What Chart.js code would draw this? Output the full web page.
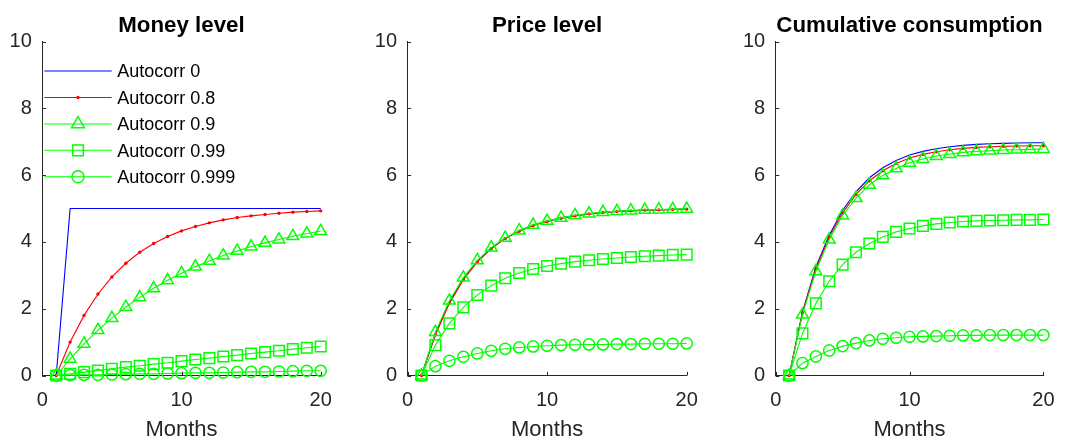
<!DOCTYPE html>
<html>
<head>
<meta charset="utf-8">
<script src="https://cdn.jsdelivr.net/npm/chart.js@4/dist/chart.umd.min.js"></script>
<style>
  html, body { margin: 0; padding: 0; background: #fff; overflow: hidden; }
  .panel { position: absolute; top: 0; height: 443px; }
  canvas { display: block; }
</style>
</head>
<body>
<div class="panel" style="left:0px;width:356px"><canvas id="money" width="356" height="443"></canvas></div>
<div class="panel" style="left:360px;width:356px"><canvas id="price" width="356" height="443"></canvas></div>
<div class="panel" style="left:720px;width:347px"><canvas id="cons" width="347" height="443"></canvas></div>
<script>
// Horizon in months
const months = [1, 2, 3, 4, 5, 6, 7, 8, 9, 10, 11, 12, 13, 14, 15, 16, 17, 18, 19, 20];

const seriesNames = ['Autocorr 0', 'Autocorr 0.8', 'Autocorr 0.9', 'Autocorr 0.99', 'Autocorr 0.999'];
const xTicks = [0, 10, 20];
const yTicks = [0, 2, 4, 6, 8, 10];

// Money level responses
const money0    = [0, 5, 5, 5, 5, 5, 5, 5, 5, 5, 5, 5, 5, 5, 5, 5, 5, 5, 5, 5];
const money08   = [0, 1.00, 1.80, 2.44, 2.95, 3.36, 3.69, 3.95, 4.16, 4.33, 4.46, 4.57, 4.66, 4.73, 4.78, 4.82, 4.86, 4.89, 4.91, 4.93];
const money09   = [0, 0.50, 0.95, 1.36, 1.72, 2.05, 2.34, 2.61, 2.85, 3.06, 3.26, 3.43, 3.59, 3.73, 3.86, 3.97, 4.07, 4.17, 4.25, 4.32];
const money099  = [0, 0.05, 0.10, 0.15, 0.20, 0.25, 0.29, 0.34, 0.38, 0.43, 0.48, 0.52, 0.57, 0.61, 0.66, 0.70, 0.74, 0.79, 0.83, 0.87];
const money0999 = [0, 0.01, 0.02, 0.02, 0.03, 0.04, 0.05, 0.05, 0.06, 0.07, 0.08, 0.08, 0.09, 0.10, 0.11, 0.11, 0.12, 0.13, 0.14, 0.14];

// Price level responses
const price0    = [0, 1.25, 2.19, 2.89, 3.42, 3.81, 4.11, 4.33, 4.50, 4.62, 4.72, 4.79, 4.84, 4.88, 4.91, 4.93, 4.95, 4.96, 4.97, 4.98];
const price08   = [0, 1.22, 2.16, 2.87, 3.40, 3.80, 4.10, 4.32, 4.49, 4.61, 4.71, 4.78, 4.84, 4.88, 4.91, 4.93, 4.95, 4.96, 4.97, 4.98];
const price09   = [0, 1.30, 2.24, 2.93, 3.45, 3.83, 4.12, 4.34, 4.51, 4.63, 4.72, 4.80, 4.85, 4.89, 4.92, 4.94, 4.96, 4.97, 4.98, 4.99];
const price099  = [0, 0.91, 1.56, 2.04, 2.41, 2.69, 2.91, 3.07, 3.19, 3.28, 3.35, 3.41, 3.45, 3.49, 3.52, 3.55, 3.57, 3.59, 3.61, 3.62];
const price0999 = [0, 0.28, 0.44, 0.56, 0.66, 0.74, 0.80, 0.84, 0.87, 0.89, 0.91, 0.92, 0.93, 0.93, 0.94, 0.94, 0.95, 0.95, 0.95, 0.96];

// Cumulative consumption responses
const cons0    = [0, 1.90, 3.25, 4.20, 4.95, 5.50, 5.92, 6.22, 6.44, 6.60, 6.71, 6.79, 6.85, 6.89, 6.92, 6.94, 6.95, 6.96, 6.97, 6.97];
const cons08   = [0, 1.88, 3.18, 4.14, 4.87, 5.42, 5.83, 6.13, 6.35, 6.51, 6.62, 6.70, 6.76, 6.80, 6.83, 6.85, 6.86, 6.87, 6.88, 6.88];
const cons09   = [0, 1.82, 3.12, 4.07, 4.79, 5.31, 5.71, 5.99, 6.20, 6.37, 6.48, 6.57, 6.63, 6.68, 6.71, 6.73, 6.75, 6.76, 6.77, 6.78];
const cons099  = [0, 1.26, 2.16, 2.82, 3.32, 3.69, 3.95, 4.15, 4.30, 4.40, 4.48, 4.54, 4.58, 4.61, 4.63, 4.64, 4.65, 4.66, 4.66, 4.67];
const cons0999 = [0, 0.37, 0.57, 0.75, 0.88, 0.97, 1.05, 1.10, 1.13, 1.16, 1.17, 1.18, 1.19, 1.20, 1.20, 1.21, 1.21, 1.21, 1.21, 1.21];

const FONT = "'Liberation Sans', Arial, Helvetica, sans-serif";
const AXIS_COLOR = '#262626';
const BLUE = '#0000ff', RED = '#ff0000', GREEN = '#00ff00';

Chart.defaults.font.family = FONT;

// Line / marker look of each series
const styles = [
  { color: BLUE,  point: false,      radius: 0,   legendRadius: 0,   fill: false, order: 5 },
  { color: RED,   point: 'circle',   radius: 1.7, legendRadius: 1.7, fill: true,  order: 4 },
  { color: GREEN, point: 'triangle', radius: 6.8, legendRadius: 7.4, fill: false, order: 3 },
  { color: GREEN, point: 'rect',     radius: 7.5, legendRadius: 7.6, fill: false, order: 2 },
  { color: GREEN, point: 'circle',   radius: 5.6, legendRadius: 6.0, fill: false, order: 1 }
];

const MARKER_LINE = 1.5;

function toPoints(vals) {
  return months.map((m, i) => ({ x: m, y: vals[i] }));
}

function buildDatasets(list) {
  return list.map((vals, i) => {
    const s = styles[i];
    return {
      label: seriesNames[i],
      data: toPoints(vals),
      borderColor: s.color,
      borderWidth: 1.1,
      backgroundColor: s.color,
      pointStyle: s.point || 'circle',
      pointRadius: s.radius,
      pointHoverRadius: s.radius,
      pointBorderColor: s.color,
      pointBackgroundColor: s.fill ? s.color : 'rgba(0,0,0,0)',
      pointBorderWidth: s.fill ? 0 : MARKER_LINE,
      tension: 0,
      fill: false,
      clip: false,
      order: s.order
    };
  });
}

// Titles above each axes box and inward tick marks
const framePlugin = {
  id: 'frame',
  afterDraw(chart) {
    const { ctx, chartArea, scales } = chart;
    const o = chart.options.plugins.frame;
    ctx.save();
    // inward ticks
    ctx.strokeStyle = AXIS_COLOR;
    ctx.lineWidth = 1;
    const tl = 3.6;
    ctx.beginPath();
    xTicks.forEach(v => {
      const px = Math.round(scales.x.getPixelForValue(v)) + 0.5;
      ctx.moveTo(px, chartArea.bottom);
      ctx.lineTo(px, chartArea.bottom - tl);
    });
    yTicks.forEach(v => {
      const py = Math.round(scales.y.getPixelForValue(v)) + 0.5;
      ctx.moveTo(chartArea.left, py);
      ctx.lineTo(chartArea.left + tl, py);
    });
    ctx.stroke();
    // title
    ctx.fillStyle = '#000';
    ctx.font = 'bold 22.3px ' + FONT;
    ctx.textAlign = 'center';
    ctx.textBaseline = 'alphabetic';
    ctx.fillText(o.title, (chartArea.left + chartArea.right) / 2, 31.7);
    ctx.restore();
  }
};

function drawMarker(ctx, style, r, x, y, color, fill) {
  ctx.beginPath();
  if (style === 'triangle') {
    let rad = 0;
    ctx.moveTo(x + Math.sin(rad) * r, y - Math.cos(rad) * r);
    rad += 2 * Math.PI / 3;
    ctx.lineTo(x + Math.sin(rad) * r, y - Math.cos(rad) * r);
    rad += 2 * Math.PI / 3;
    ctx.lineTo(x + Math.sin(rad) * r, y - Math.cos(rad) * r);
    ctx.closePath();
  } else if (style === 'rect') {
    const h = Math.SQRT1_2 * r;
    ctx.rect(x - h, y - h, 2 * h, 2 * h);
  } else {
    ctx.arc(x, y, r, 0, Math.PI * 2);
  }
  if (fill) {
    ctx.fillStyle = color;
    ctx.fill();
  } else {
    ctx.strokeStyle = color;
    ctx.lineWidth = MARKER_LINE;
    ctx.stroke();
  }
}

// Legend drawn inside the upper-left of the money panel
const legendPlugin = {
  id: 'boxLegend',
  afterDraw(chart) {
    const o = chart.options.plugins.boxLegend;
    if (!o || !o.show) return;
    const ctx = chart.ctx;
    const x0 = 44.3, x1 = 111.7, xm = 78, xt = 117.3;
    const rows = [71, 97.5, 124, 150.3, 176.7];
    ctx.save();
    ctx.font = '18px ' + FONT;
    ctx.textAlign = 'left';
    ctx.textBaseline = 'middle';
    seriesNames.forEach((name, i) => {
      const s = styles[i];
      const y = rows[i];
      ctx.strokeStyle = s.color;
      ctx.lineWidth = 1.1;
      ctx.beginPath();
      ctx.moveTo(x0, y);
      ctx.lineTo(x1, y);
      ctx.stroke();
      if (s.point) drawMarker(ctx, s.point, s.legendRadius, xm, y, s.color, s.fill);
      ctx.fillStyle = '#000';
      ctx.fillText(name, xt, y + 1.5);
    });
    ctx.restore();
  }
};

function makeChart(id, title, list, yAxisWidth, padRight, showLegend) {
  return new Chart(document.getElementById(id), {
    type: 'line',
    data: { datasets: buildDatasets(list) },
    options: {
      responsive: false,
      animation: false,
      events: [],
      layout: { padding: { top: 41.5, right: padRight, bottom: 0, left: 0 } },
      plugins: {
        legend: { display: false },
        tooltip: { enabled: false },
        title: { display: false },
        frame: { title: title },
        boxLegend: { show: showLegend }
      },
      scales: {
        x: {
          type: 'linear',
          min: 0, max: 20,
          grid: { display: false, drawTicks: false },
          border: { display: true, color: AXIS_COLOR, width: 1 },
          ticks: {
            stepSize: 10, autoSkip: false, maxRotation: 0, padding: 12.5,
            color: AXIS_COLOR, font: { size: 20, family: FONT }
          },
          title: {
            display: true, text: 'Months', color: AXIS_COLOR,
            font: { size: 22, family: FONT }, padding: { top: 0, bottom: 0 }
          },
          afterFit(scale) { scale.height = 67.5; }
        },
        y: {
          type: 'linear',
          min: 0, max: 10,
          grid: { display: false, drawTicks: false },
          border: { display: true, color: AXIS_COLOR, width: 1 },
          ticks: {
            stepSize: 2, autoSkip: false, padding: 10.5,
            color: AXIS_COLOR, font: { size: 20, family: FONT }
          },
          afterFit(scale) { scale.width = yAxisWidth; }
        }
      }
    },
    plugins: [framePlugin, legendPlugin]
  });
}

makeChart('money', 'Money level', [money0, money08, money09, money099, money0999], 42.3, 35.3, true);
makeChart('price', 'Price level', [price0, price08, price09, price099, price0999], 47.5, 29.3, false);
makeChart('cons', 'Cumulative consumption', [cons0, cons08, cons09, cons099, cons0999], 55.7, 13, false);
</script>
</body>
</html>
